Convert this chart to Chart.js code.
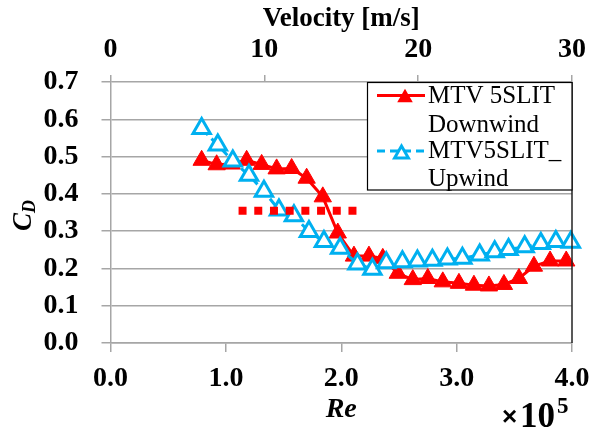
<!DOCTYPE html>
<html lang="en">
<head>
<meta charset="UTF-8">
<title>CD vs Re - MTV 5SLIT</title>
<script src="https://cdn.jsdelivr.net/npm/chart.js@4.4.1/dist/chart.umd.min.js"></script>
<style>
  html, body { margin: 0; padding: 0; background: #ffffff; }
  #wrap { position: relative; width: 593px; height: 432px; }
</style>
</head>
<body>
<div id="wrap"><canvas id="cdChart" width="593" height="432"></canvas></div>
<script>
// Re (x 10^5) and drag coefficient
const reDown = [0.79, 0.92, 1.05, 1.18, 1.31, 1.44, 1.57, 1.70, 1.84, 1.97, 2.11, 2.24, 2.36, 2.49, 2.62, 2.75, 2.88, 3.02, 3.15, 3.28, 3.41, 3.54, 3.67, 3.81, 3.95];
const cdDown = [0.490, 0.478, 0.480, 0.490, 0.479, 0.467, 0.468, 0.442, 0.392, 0.295, 0.233, 0.233, 0.227, 0.187, 0.170, 0.173, 0.164, 0.160, 0.155, 0.153, 0.157, 0.173, 0.206, 0.220, 0.220];

const reUp = [0.79, 0.93, 1.06, 1.20, 1.33, 1.46, 1.59, 1.72, 1.85, 1.99, 2.14, 2.27, 2.39, 2.53, 2.66, 2.79, 2.92, 3.05, 3.20, 3.33, 3.45, 3.59, 3.73, 3.86, 3.99];
const cdUp = [0.575, 0.531, 0.488, 0.450, 0.407, 0.357, 0.341, 0.299, 0.272, 0.254, 0.212, 0.198, 0.215, 0.218, 0.220, 0.222, 0.225, 0.227, 0.236, 0.245, 0.251, 0.258, 0.267, 0.272, 0.270];

// dotted reference level
const refRe = [1.11, 2.15];
const refCd = [0.355, 0.355];

const reTicks = [0, 1, 2, 3, 4];
const velocityTicks = [0, 10, 20, 30];
const cdTicks = [0, 0.1, 0.2, 0.3, 0.4, 0.5, 0.6, 0.7];

const seriesNames = [["MTV 5SLIT", "Downwind"], ["MTV5SLIT_", "Upwind"]];

const RED = "#ff0000";
const BLUE = "#00b0f0";
const GRID = "#a6a6a6";
const SERIF = "'Liberation Serif', 'Times New Roman', serif";

function toPoints(xs, ys) {
  return xs.map((x, i) => ({ x: x, y: ys[i] }));
}

function triangle(ctx, cx, cy, r) {
  // bounding box centred on (cx, cy)
  const h = r * 1.5;
  const w = r * Math.sqrt(3);
  ctx.beginPath();
  ctx.moveTo(cx, cy - h / 2);
  ctx.lineTo(cx + w / 2, cy + h / 2);
  ctx.lineTo(cx - w / 2, cy + h / 2);
  ctx.closePath();
}

function noSidePadding(s) {
  s.paddingLeft = 0;
  s.paddingRight = 0;
}

const extras = {
  id: "extras",
  afterDraw(chart) {
    const ctx = chart.ctx;
    const area = chart.chartArea;
    ctx.save();

    // right frame line
    ctx.strokeStyle = "#222";
    ctx.lineWidth = 1.5;
    ctx.beginPath();
    ctx.moveTo(area.right, area.top);
    ctx.lineTo(area.right, area.bottom);
    ctx.stroke();

    // legend box
    const lx = 367.5, ly = 82.5, lw = 204.5, lh = 107.5;
    ctx.fillStyle = "#fff";
    ctx.fillRect(lx, ly, lw, lh);
    ctx.strokeStyle = "#000";
    ctx.lineWidth = 1.2;
    ctx.strokeRect(lx, ly, lw, lh);

    ctx.strokeStyle = RED;
    ctx.lineWidth = 3;
    ctx.beginPath();
    ctx.moveTo(377, 95.5);
    ctx.lineTo(425, 95.5);
    ctx.stroke();
    triangle(ctx, 405, 95.5, 9);
    ctx.fillStyle = RED;
    ctx.fill();

    ctx.strokeStyle = BLUE;
    ctx.setLineDash([8, 5]);
    ctx.beginPath();
    ctx.moveTo(377, 151);
    ctx.lineTo(426, 151);
    ctx.stroke();
    ctx.setLineDash([]);
    triangle(ctx, 401.5, 152, 8);
    ctx.fillStyle = "#fff";
    ctx.fill();
    ctx.lineWidth = 3;
    ctx.stroke();

    ctx.fillStyle = "#000";
    ctx.font = "25px " + SERIF;
    ctx.textAlign = "left";
    ctx.textBaseline = "alphabetic";
    ctx.fillText(seriesNames[0][0], 428, 103);
    ctx.fillText(seriesNames[0][1], 428, 132);
    ctx.fillText(seriesNames[1][0], 428, 158);
    ctx.fillText(seriesNames[1][1], 428, 186);

    // y axis title C_D
    ctx.save();
    ctx.translate(31, 231);
    ctx.rotate(-Math.PI / 2);
    ctx.font = "italic bold 27px " + SERIF;
    ctx.fillText("C", 0, 0);
    const cw = ctx.measureText("C").width;
    ctx.font = "italic bold 18px " + SERIF;
    ctx.fillText("D", cw, 4);
    ctx.restore();

    // x10^5 multiplier
    ctx.font = "bold 26px 'Liberation Sans', Arial, sans-serif";
    ctx.fillText("\u00d7", 502, 425);
    ctx.font = "bold 35px " + SERIF;
    ctx.fillText("10", 520, 427);
    ctx.font = "bold 23px " + SERIF;
    ctx.fillText("5", 557, 413);

    ctx.restore();
  }
};

const ctx = document.getElementById("cdChart").getContext("2d");
new Chart(ctx, {
  type: "line",
  data: {
    datasets: [
      {
        label: "reference",
        data: toPoints(refRe, refCd),
        borderColor: RED,
        borderWidth: 8,
        borderDash: [8, 7.7],
        borderCapStyle: "butt",
        pointRadius: 0,
        fill: false,
      },
      {
        label: seriesNames[1].join(" "),
        data: toPoints(reUp, cdUp),
        borderColor: BLUE,
        borderWidth: 3,
        borderDash: [9, 5],
        pointStyle: "triangle",
        pointRadius: 10,
        pointBorderWidth: 3,
        pointBorderColor: BLUE,
        pointBackgroundColor: "#fff",
        fill: false,
        clip: false,
      },
      {
        label: seriesNames[0].join(" "),
        data: toPoints(reDown, cdDown),
        borderColor: RED,
        borderWidth: 3,
        pointStyle: "triangle",
        pointRadius: 10,
        pointBorderWidth: 1,
        pointBorderColor: RED,
        pointBackgroundColor: RED,
        fill: false,
        clip: false,
      },
    ],
  },
  options: {
    responsive: false,
    animation: false,
    devicePixelRatio: 1,
    layout: { padding: { left: 0, right: 21, top: 0, bottom: 0 } },
    plugins: {
      legend: { display: false },
      tooltip: { enabled: false },
    },
    scales: {
      x: {
        type: "linear",
        position: "bottom",
        min: 0,
        max: 4,
        afterBuildTicks: (s) => { s.ticks = reTicks.map((v) => ({ value: v })); },
        afterFit: (s) => { s.height = 89; noSidePadding(s); },
        ticks: {
          callback: (v) => v.toFixed(1),
          color: "#000",
          font: { family: SERIF, size: 28, weight: "bold" },
          padding: 10,
          maxRotation: 0,
          autoSkip: false,
        },
        grid: { drawOnChartArea: false, tickLength: 9, color: GRID, lineWidth: 1.5 },
        border: { color: GRID, width: 1.5 },
        title: {
          display: true,
          text: "Re",
          color: "#000",
          font: { family: SERIF, size: 28, weight: "bold", style: "italic" },
          padding: { top: 0, bottom: 5 },
        },
      },
      x2: {
        type: "linear",
        position: "top",
        min: 0,
        max: 30,
        afterBuildTicks: (s) => { s.ticks = velocityTicks.map((v) => ({ value: v })); },
        afterFit: (s) => { s.height = 82; noSidePadding(s); },
        ticks: {
          color: "#000",
          font: { family: SERIF, size: 28, weight: "bold" },
          padding: 8,
          maxRotation: 0,
          autoSkip: false,
        },
        grid: { drawOnChartArea: false, tickLength: 7, color: GRID, lineWidth: 1.5 },
        border: { display: false },
        title: {
          display: true,
          text: "Velocity [m/s]",
          color: "#000",
          font: { family: SERIF, size: 27, weight: "bold" },
          padding: { top: 3, bottom: 0 },
        },
      },
      y: {
        min: 0,
        max: 0.7,
        afterBuildTicks: (s) => { s.ticks = cdTicks.map((v) => ({ value: v })); },
        afterFit: (s) => { s.width = 110.5; s.paddingTop = 0; s.paddingBottom = 0; },
        ticks: {
          callback: (v) => v.toFixed(1),
          color: "#000",
          font: { family: SERIF, size: 28, weight: "bold" },
          padding: 23,
        },
        grid: { color: GRID, lineWidth: 1.5, tickLength: 9 },
        border: { color: GRID, width: 1.5 },
      },
    },
  },
  plugins: [extras],
});
</script>
</body>
</html>
